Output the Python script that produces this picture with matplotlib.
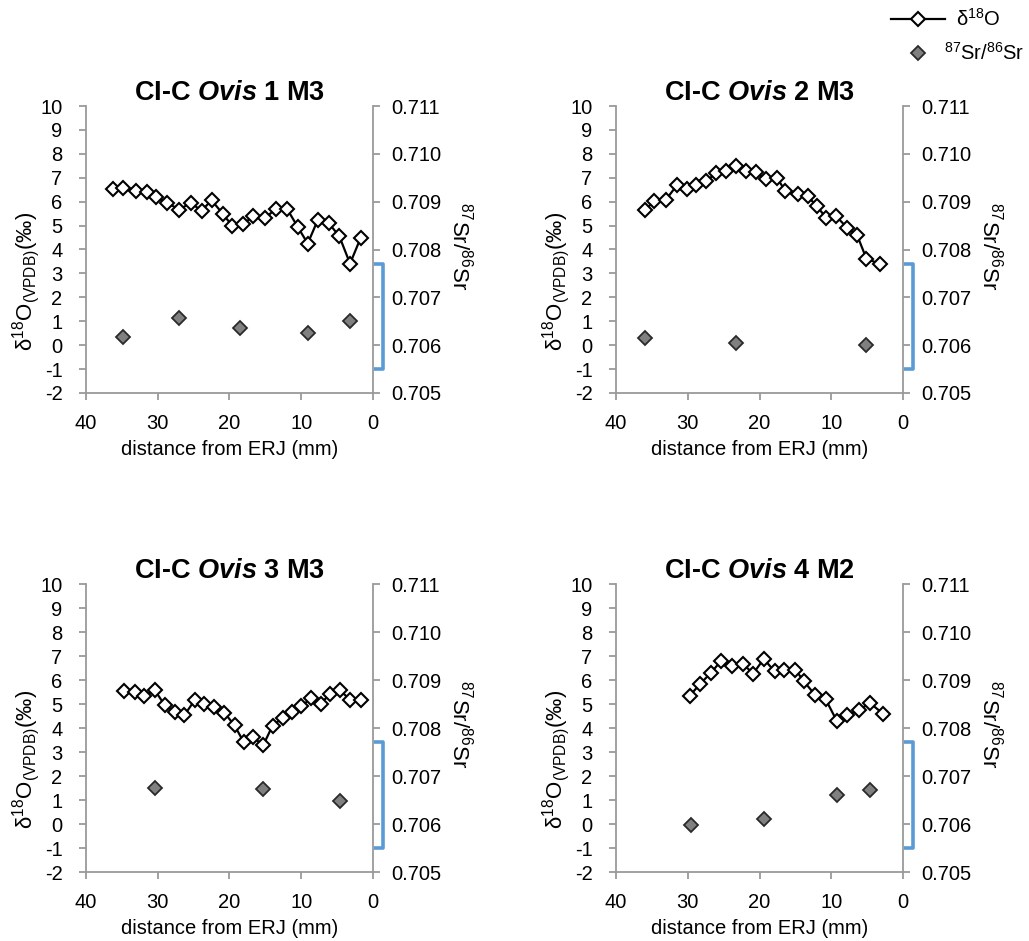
import matplotlib
matplotlib.use('Agg')
import numpy as np
import matplotlib.pyplot as plt
import matplotlib.transforms as mtrans
from matplotlib.lines import Line2D

plt.rcParams['font.family'] = ['Liberation Sans', 'DejaVu Sans']
plt.rcParams['mathtext.fontset'] = 'custom'
plt.rcParams['mathtext.rm'] = 'Liberation Sans'
plt.rcParams['mathtext.it'] = 'Liberation Sans:italic:bold'
plt.rcParams['mathtext.bf'] = 'Liberation Sans:bold'
plt.rcParams['axes.unicode_minus'] = False

# ---------------- data ----------------
titles = [r'CI-C $\mathit{Ovis}$ 1 M3', r'CI-C $\mathit{Ovis}$ 2 M3',
          r'CI-C $\mathit{Ovis}$ 3 M3', r'CI-C $\mathit{Ovis}$ 4 M2']

d18o_dist_1 = [36.2, 34.8, 33.1, 31.5, 30.3, 28.7, 27.0, 25.4, 23.9, 22.5, 20.9, 19.6,
               18.1, 16.7, 15.1, 13.5, 12.0, 10.5, 9.1, 7.7, 6.2, 4.7, 3.2, 1.7]
d18o_val_1 = [6.55, 6.59, 6.45, 6.41, 6.20, 5.95, 5.67, 5.95, 5.62, 6.06, 5.48, 4.98,
              5.06, 5.39, 5.30, 5.71, 5.71, 4.95, 4.25, 5.23, 5.11, 4.56, 3.41, 4.50]
sr_dist_1 = [34.8, 27.0, 18.5, 9.1, 3.2]
sr_val_1 = [0.70618, 0.70656, 0.70636, 0.70625, 0.70650]

d18o_dist_2 = [36.0, 34.7, 33.1, 31.5, 30.1, 28.9, 27.4, 26.1, 24.6, 23.3, 21.9, 20.5,
               19.1, 17.6, 16.4, 14.7, 13.3, 12.0, 10.7, 9.3, 7.8, 6.4, 5.1, 3.2]
d18o_val_2 = [5.64, 6.02, 6.06, 6.69, 6.51, 6.69, 6.87, 7.18, 7.28, 7.51, 7.29, 7.22,
              6.93, 7.01, 6.45, 6.31, 6.23, 5.81, 5.32, 5.39, 4.91, 4.60, 3.62, 3.39]
sr_dist_2 = [36.0, 23.3, 5.1]
sr_val_2 = [0.70616, 0.70605, 0.70600]

d18o_dist_3 = [34.7, 33.2, 31.9, 30.4, 29.0, 27.6, 26.3, 24.8, 23.5, 22.1, 20.7, 19.3, 18.0,
               16.7, 15.3, 14.0, 12.6, 11.3, 10.0, 8.6, 7.3, 6.0, 4.6, 3.2, 1.7]
d18o_val_3 = [5.56, 5.49, 5.35, 5.57, 4.94, 4.68, 4.53, 5.18, 5.00, 4.86, 4.63, 4.11, 3.40,
              3.61, 3.28, 4.10, 4.42, 4.65, 4.90, 5.25, 5.01, 5.42, 5.57, 5.18, 5.15]
sr_dist_3 = [30.4, 15.3, 4.6]
sr_val_3 = [0.70674, 0.70672, 0.70647]

d18o_dist_4 = [29.7, 28.3, 26.8, 25.4, 23.9, 22.3, 20.9, 19.4, 17.9, 16.6, 15.0, 13.8,
               12.2, 10.8, 9.2, 7.8, 6.2, 4.6, 2.8]
d18o_val_4 = [5.35, 5.83, 6.29, 6.78, 6.57, 6.68, 6.26, 6.88, 6.36, 6.43, 6.43, 5.94,
              5.36, 5.21, 4.28, 4.53, 4.74, 5.04, 4.60]
sr_dist_4 = [29.6, 19.4, 9.2, 4.6]
sr_val_4 = [0.70597, 0.70611, 0.70661, 0.70670]

sr_range = [0.7055, 0.7077]   # local bioavailable range bracket

x_ticks = [40, 30, 20, 10, 0]
y_ticks = list(range(-2, 11))
sr_ticks = [0.705, 0.706, 0.707, 0.708, 0.709, 0.710, 0.711]

panels = [
    (d18o_dist_1, d18o_val_1, sr_dist_1, sr_val_1),
    (d18o_dist_2, d18o_val_2, sr_dist_2, sr_val_2),
    (d18o_dist_3, d18o_val_3, sr_dist_3, sr_val_3),
    (d18o_dist_4, d18o_val_4, sr_dist_4, sr_val_4),
]

# ---------------- figure ----------------
W, H = 1029, 941
fig = plt.figure(figsize=(W / 100, H / 100), dpi=100)


def rect(l, t, r, b):
    return [l / W, 1 - b / H, (r - l) / W, (b - t) / H]


rects = [rect(86, 106, 373, 393), rect(616, 106, 903, 393),
         rect(86, 584, 373, 872), rect(616, 584, 903, 872)]

AXC = '#9A9A9A'
FS = 14.5
MS_O = 7.6
MS_SR = 7.6

for (dx, dy, sx, sy), title, r in zip(panels, titles, rects):
    ax = fig.add_axes(r)
    ax.plot(dx, dy, color='black', lw=1.6, marker='D', ms=MS_O, mfc='white',
            mec='black', mew=1.5, zorder=3, clip_on=False)
    ax.set_xlim(40, 0)
    ax.set_ylim(-2, 10)
    ax.set_xticks(x_ticks)
    ax.set_yticks(y_ticks)
    for s in ['top', 'right']:
        ax.spines[s].set_visible(False)
    for s in ['left', 'bottom']:
        ax.spines[s].set_color(AXC)
        ax.spines[s].set_linewidth(1.3)
    ax.tick_params(axis='y', direction='out', length=5, width=1.3, color=AXC,
                   labelsize=FS, pad=12)
    ax.tick_params(axis='x', direction='out', length=5, width=1.3, color=AXC,
                   labelsize=FS, pad=10)
    ax.set_xlabel('distance from ERJ (mm)', fontsize=FS, labelpad=5)
    ax.set_ylabel('δ$^{18}$O$_{\\mathrm{(VPDB)}}$(‰)', fontsize=16)
    ax.yaxis.set_label_coords(-0.155, 0.39)
    ax.set_title(title, fontsize=19.5, fontweight='bold', pad=4)

    ax2 = ax.twinx()
    ax2.set_ylim(0.705, 0.711)
    ax2.set_yticks(sr_ticks)
    ax2.set_yticklabels(['%.3f' % v for v in sr_ticks])
    for s in ['top', 'left', 'bottom']:
        ax2.spines[s].set_visible(False)
    ax2.spines['right'].set_color(AXC)
    ax2.spines['right'].set_linewidth(1.3)
    ax2.tick_params(axis='y', direction='out', length=5, width=1.3, color=AXC,
                    labelsize=FS, pad=8)
    ax2.plot(sx, sy, ls='none', marker='D', ms=MS_SR, mfc='#808080', mec='#2a2a2a',
             mew=1.3, zorder=4, clip_on=False)
    trans = mtrans.blended_transform_factory(ax2.transAxes, ax2.transData)
    ax2.plot([1.003, 1.036, 1.036, 1.003], [sr_range[1], sr_range[1], sr_range[0], sr_range[0]],
             transform=trans, color='#5B9BD5', lw=2.6, clip_on=False,
             solid_joinstyle='round', solid_capstyle='butt')
    ax.text(1.303, 0.512, '$^{87}$Sr/$^{86}$Sr', transform=ax.transAxes, rotation=270,
            ha='center', va='center', fontsize=16)

# ---------------- legend ----------------
fig.add_artist(Line2D([891 / W, 945 / W], [1 - 19 / H, 1 - 19 / H], transform=fig.transFigure,
                      color='black', lw=1.6))
fig.add_artist(Line2D([918 / W], [1 - 19 / H], transform=fig.transFigure, ls='none',
                      marker='D', ms=MS_O - 0.6, mfc='white', mec='black', mew=1.5))
fig.add_artist(Line2D([918 / W], [1 - 53 / H], transform=fig.transFigure, ls='none',
                      marker='D', ms=MS_SR - 0.6, mfc='#808080', mec='#2a2a2a', mew=1.3))
fig.text(956 / W, 1 - 19 / H, 'δ$^{18}$O', va='center', ha='left', fontsize=14.5)
fig.text(944 / W, 1 - 53 / H, '$^{87}$Sr/$^{86}$Sr', va='center', ha='left', fontsize=14.5)

fig.savefig('out.png', dpi=100)
